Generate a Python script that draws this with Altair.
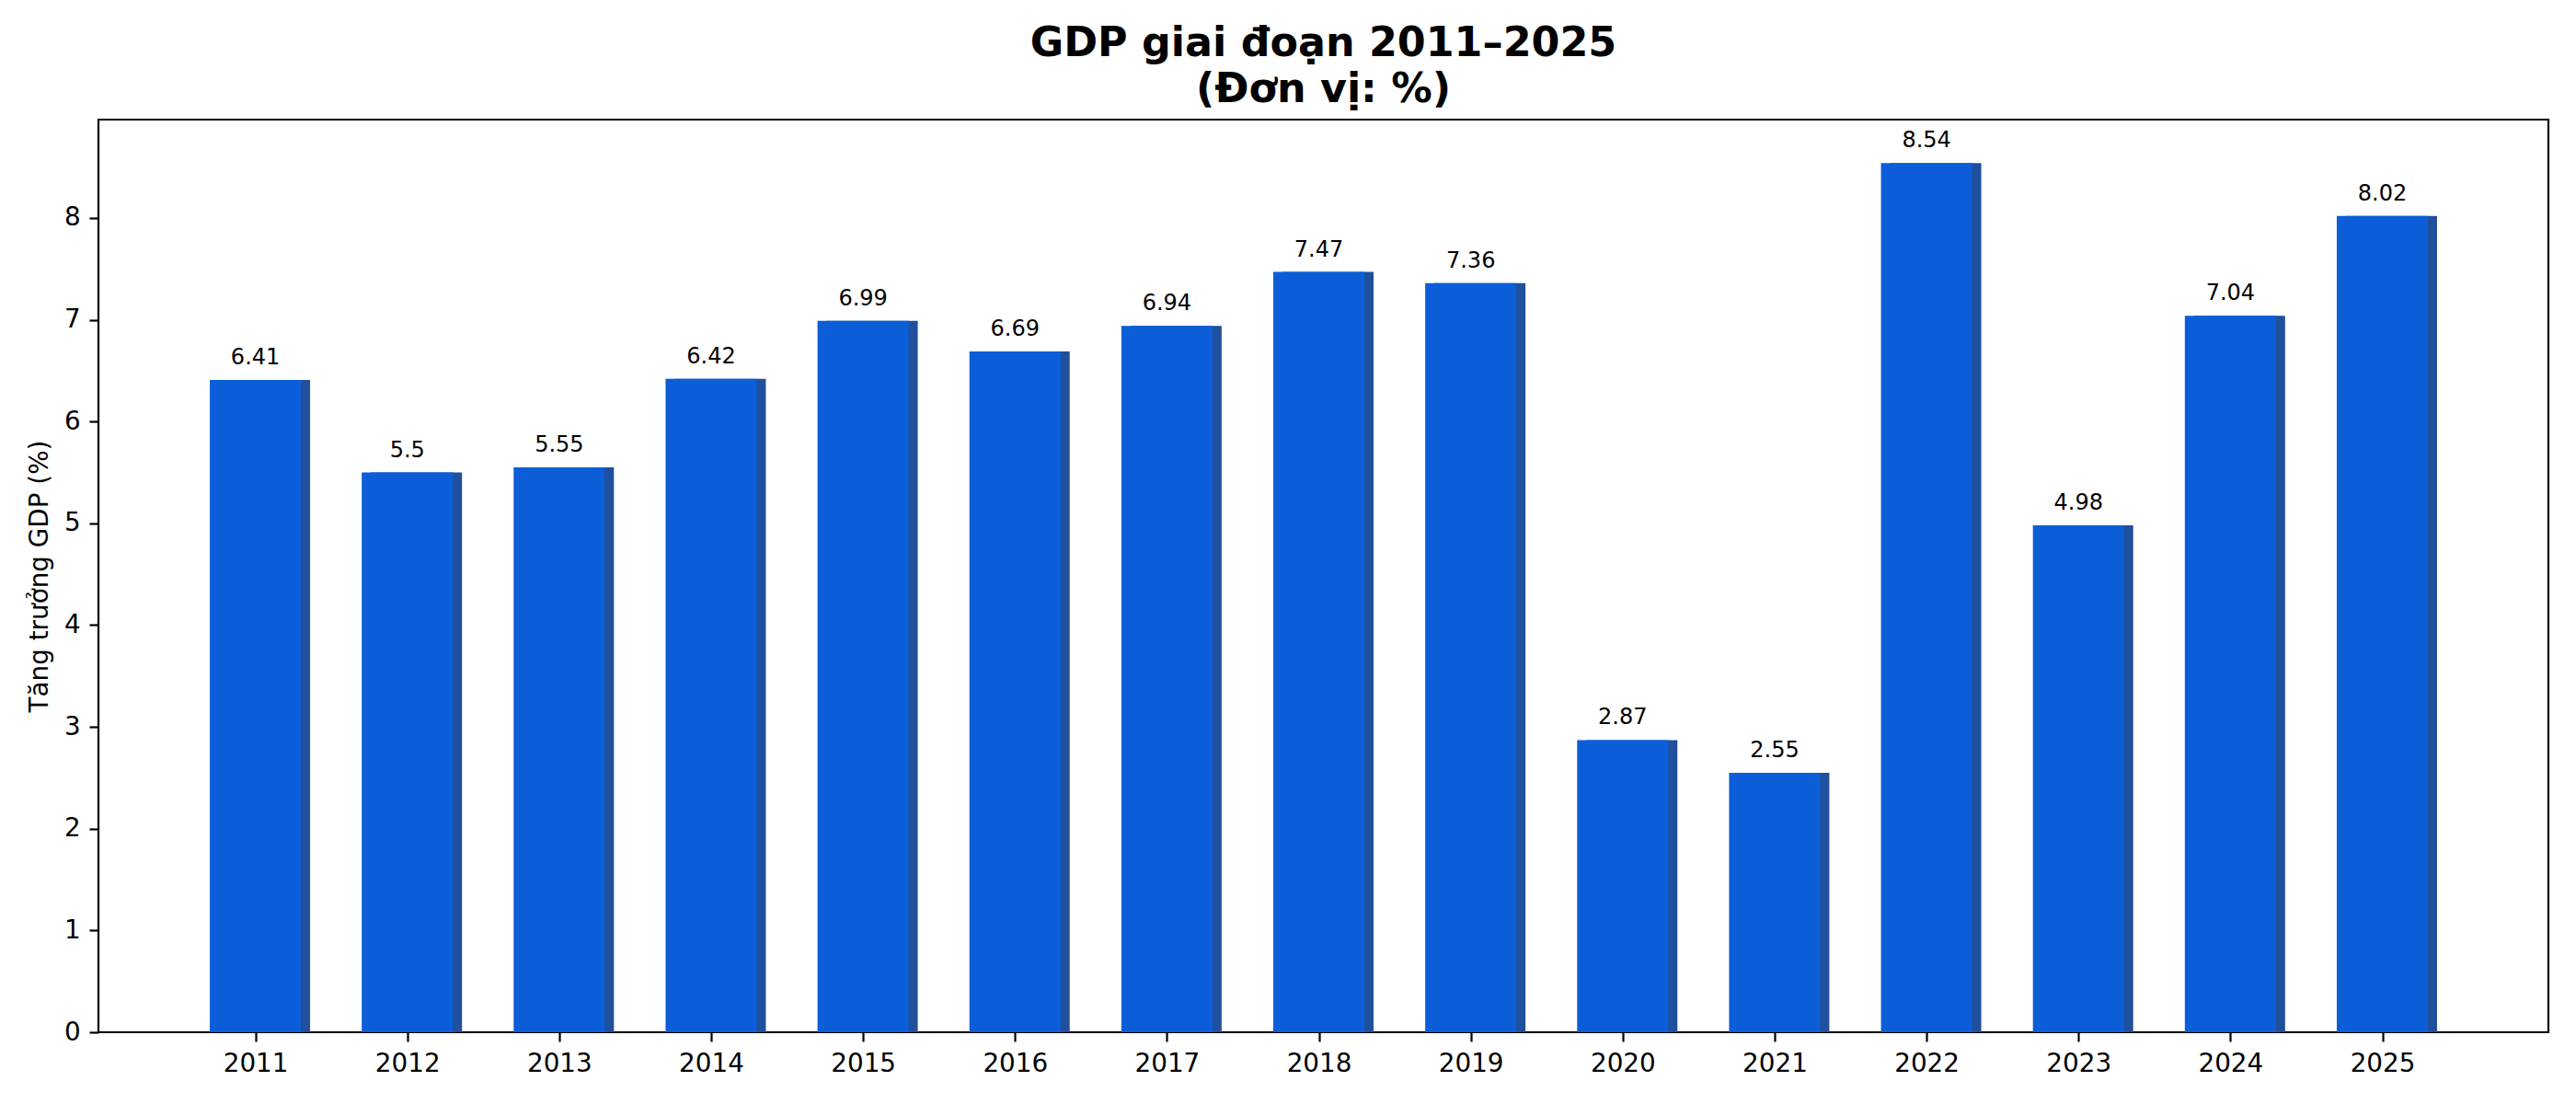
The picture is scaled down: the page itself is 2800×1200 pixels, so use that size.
import json
import altair as alt
import pandas as pd

years = [2011, 2012, 2013, 2014, 2015, 2016, 2017, 2018, 2019, 2020, 2021, 2022, 2023, 2024, 2025]
growth = [6.41, 5.5, 5.55, 6.42, 6.99, 6.69, 6.94, 7.47, 7.36, 2.87, 2.55, 8.54, 4.98, 7.04, 8.02]
labels = ["6.41", "5.5", "5.55", "6.42", "6.99", "6.69", "6.94", "7.47", "7.36", "2.87", "2.55", "8.54", "4.98", "7.04", "8.02"]

title_lines = ["GDP giai đoạn 2011–2025", "(Đơn vị: %)"]
y_title = "Tăng trưởng GDP (%)"

MAIN = "#0b5ed7"
SHADOW = "#204f9c"
FONT = "DejaVu Sans"

df = pd.DataFrame({"idx": list(range(len(years))), "year": years, "growth": growth, "label": labels})

half = 0.3
shift = 0.06
span = 2 * half + shift + len(years) - 1
x_scale = alt.Scale(domain=[-half - 0.05 * span, len(years) - 1 + half + shift + 0.05 * span],
                    nice=False, zero=False)
y_scale = alt.Scale(domain=[0, max(growth) * 1.05], nice=False, zero=False)

label_expr = json.dumps([str(y) for y in years]) + "[datum.value]"

x_axis = alt.Axis(values=list(range(len(years))), labelExpr=label_expr, title=None, grid=False,
                  domain=False, tickSize=10, tickWidth=2.2, tickColor="black",
                  labelFontSize=27.8, labelFont=FONT, labelColor="black", labelPadding=10)
y_axis = alt.Axis(values=list(range(0, 9)), format="d", title=y_title, grid=False, domain=False,
                  tickSize=10, tickWidth=2.2, tickColor="black",
                  labelFontSize=27.8, labelFont=FONT, labelColor="black", labelPadding=9.7,
                  titleFontSize=27.8, titleFont=FONT, titleFontWeight="normal", titleColor="black",
                  titleAngle=-90, titleBaseline="bottom", titleAlign="center",
                  titleX=-50, titleY=496)

base = alt.Chart(df)

shadow = base.transform_calculate(
    x0=f"datum.idx - {half} + {shift}", x1=f"datum.idx + {half} + {shift}"
).mark_bar(color=SHADOW).encode(
    x=alt.X("x0:Q", scale=x_scale, axis=x_axis),
    x2="x1:Q",
    y=alt.Y("growth:Q", scale=y_scale, axis=y_axis),
    y2=alt.datum(0),
)

bars = base.transform_calculate(
    x0=f"datum.idx - {half}", x1=f"datum.idx + {half}"
).mark_bar(color=MAIN).encode(
    x=alt.X("x0:Q", scale=x_scale),
    x2="x1:Q",
    y=alt.Y("growth:Q", scale=y_scale),
    y2=alt.datum(0),
)

text = base.mark_text(fontSize=24, font=FONT, color="black", baseline="alphabetic", dy=-17).encode(
    x=alt.X("idx:Q", scale=x_scale),
    y=alt.Y("growth:Q", scale=y_scale),
    text="label:N",
)

chart = alt.layer(shadow, bars, text).properties(
    width=2663,
    height=992,
    padding={"left": 99, "top": 122, "right": 22, "bottom": 70},
    autosize=alt.AutoSizeParams(type="none"),
    title=alt.TitleParams(text=title_lines, fontSize=44.4, font=FONT, fontWeight="bold",
                          color="black", lineHeight=50, anchor="middle", baseline="bottom",
                          offset=8, dy=42),
).configure(background="white").configure_view(stroke="black", strokeWidth=2.2)

chart.save("out.html", embed_options={"renderer": "svg", "actions": False})
